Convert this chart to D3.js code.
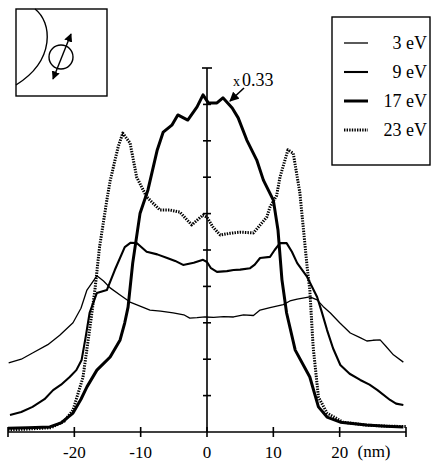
<!DOCTYPE html>
<html>
<head>
<meta charset="utf-8">
<script src="https://cdn.jsdelivr.net/npm/d3@7"></script>
<style>
  body { margin: 0; background: #fff; }
</style>
</head>
<body>
<div id="chart-area"></div>
<script>
// data: [position nm, intensity in axis ticks]
const ev3 = [[-29.9,1.9],[-28,2.0],[-26.3,2.17],[-24,2.4],[-22.2,2.66],[-20.2,3.0],[-19,3.4],[-18.1,3.9],[-16.6,4.29],[-15.6,4.15],[-14.6,3.96],[-13,3.75],[-11.6,3.57],[-10,3.45],[-8.6,3.35],[-7,3.32],[-5.1,3.27],[-3.5,3.22],[-2.6,3.13],[-1.5,3.14],[-0.3,3.16],[1,3.15],[2.5,3.17],[4,3.16],[5.5,3.22],[7,3.2],[8,3.35],[9.5,3.42],[11.5,3.5],[12.5,3.6],[13.6,3.65],[15.5,3.71],[16.6,3.63],[17.5,3.45],[18.6,3.27],[20,3.0],[21.6,2.72],[23,2.6],[24.1,2.5],[25,2.52],[26.1,2.53],[27,2.35],[28.1,2.12],[29.6,1.92]];
const ev9 = [[-29.7,0.47],[-28,0.55],[-26.3,0.69],[-24.5,0.9],[-23.2,1.15],[-22,1.3],[-20.7,1.51],[-19.7,1.7],[-18.9,1.98],[-18.3,2.6],[-17.7,3.27],[-16.6,3.82],[-15.1,3.9],[-13.9,4.45],[-12.4,5.08],[-11.5,5.2],[-10.6,5.19],[-9.1,4.95],[-7.5,4.88],[-6.0,4.78],[-4.8,4.7],[-3.6,4.59],[-2,4.65],[-0.6,4.73],[0,4.67],[0.6,4.5],[1.5,4.4],[3,4.42],[4,4.45],[5,4.46],[6.5,4.5],[7.2,4.6],[8,4.78],[9.5,4.81],[10.2,5.0],[11,5.19],[12,5.19],[12.8,4.95],[13.6,4.64],[15.1,4.26],[16.6,3.71],[17.3,3.3],[18.1,2.8],[19,2.3],[20.1,1.84],[21.5,1.6],[23.1,1.43],[24.5,1.3],[25.7,1.15],[27.6,0.88],[28.5,0.78],[29.6,0.74]];
const ev17 = [[-30,0.1],[-27,0.12],[-23.7,0.14],[-22,0.25],[-20.2,0.52],[-19,0.9],[-18.1,1.24],[-16.6,1.7],[-14.6,2.06],[-13.1,2.53],[-12.4,3.0],[-11.9,3.43],[-11.2,4.64],[-10.1,6.0],[-8.9,6.65],[-7.5,7.75],[-6.6,8.24],[-5.3,8.43],[-4.4,8.71],[-2.9,8.57],[-1.5,8.93],[-0.6,9.26],[0.2,9.04],[1.5,9.04],[2.4,9.18],[3.8,8.9],[4.7,8.63],[6,8.02],[7.5,7.47],[8.5,6.92],[10,6.37],[10.7,5.55],[11.3,4.18],[12,3.27],[13.3,2.25],[15.5,1.51],[16.8,0.69],[18.1,0.41],[20.1,0.27],[24,0.19],[27,0.16],[29.6,0.14]];
const ev23 = [[-30,0.06],[-27,0.08],[-23.5,0.12],[-21.5,0.3],[-20.2,0.6],[-18.7,1.5],[-17.7,2.8],[-16.9,3.9],[-16.2,5.08],[-15.1,6.37],[-14.6,6.9],[-13.4,7.83],[-12.7,8.21],[-11.6,7.94],[-10.6,7.0],[-9.1,6.46],[-7.1,6.1],[-5.6,6.1],[-4.1,6.04],[-2.3,5.69],[-0.6,5.96],[0,5.9],[0.9,5.63],[2,5.41],[3.5,5.46],[5,5.49],[7,5.47],[9,5.9],[9.5,6.18],[10.5,6.5],[11,7.0],[12.2,7.75],[13,7.66],[14,6.57],[15.1,4.53],[15.5,3.9],[16,2.34],[16.8,0.96],[18.1,0.52],[20.5,0.27],[24,0.19],[27,0.16],[30,0.15]];

const seriesNames = ["3 eV", "9 eV", "17 eV", "23 eV"];
const seriesData = [ev3, ev9, ev17, ev23];
const xTicks = [-20, -10, 0, 10, 20];
const yTicks = [1, 2, 3, 4, 5, 6, 7, 8, 9];

const styles = [
    {w: 1.3, dash: null},
    {w: 2.1, dash: null},
    {w: 3.0, dash: null},
    {w: 3.0, dash: "1.4,1.2"}
];

const serif = "'Liberation Serif', 'DejaVu Serif', serif";

const svg = d3.select("#chart-area")
    .append("svg")
        .attr("width", 434)
        .attr("height", 462)
        .style("font-family", serif);

const x = d3.scaleLinear().domain([-30, 30]).range([8, 406]);
const y = d3.scaleLinear().domain([0, 10]).range([432, 68]);

// x axis
const xAxis = svg.append("g").attr("stroke", "#000").attr("stroke-width", 1.6);
xAxis.append("line").attr("x1", x(-30)).attr("x2", x(30)).attr("y1", y(0)).attr("y2", y(0));
xAxis.selectAll(".xt").data([-30].concat(xTicks, [30])).enter()
    .append("line")
        .attr("x1", d => x(d)).attr("x2", d => x(d))
        .attr("y1", y(0) - 5).attr("y2", y(0) + 5);
svg.selectAll(".xl").data(xTicks).enter()
    .append("text")
        .attr("x", d => x(d))
        .attr("y", 458)
        .attr("text-anchor", "middle")
        .attr("font-family", serif)
        .attr("font-size", 17)
        .text(d => d);
svg.append("text").attr("x", 374).attr("y", 457).attr("text-anchor", "middle")
    .attr("font-family", serif).attr("font-size", 17).text("(nm)");

// y axis at 0
const yAxis = svg.append("g").attr("stroke", "#000").attr("stroke-width", 1.6);
yAxis.append("line").attr("x1", x(0)).attr("x2", x(0)).attr("y1", y(0)).attr("y2", y(10));
yAxis.append("line").attr("x1", x(0) - 5).attr("x2", x(0) + 5).attr("y1", y(10)).attr("y2", y(10));
yAxis.selectAll(".yt").data(yTicks).enter()
    .append("line")
        .attr("x1", x(0) - 4).attr("x2", x(0) + 4)
        .attr("y1", d => y(d)).attr("y2", d => y(d));

// curves
const line = d3.line().x(d => x(d[0])).y(d => y(d[1]));
seriesData.forEach((data, i) => {
    svg.append("path")
        .datum(data)
        .attr("d", line)
        .attr("fill", "none")
        .attr("stroke", "#000")
        .attr("stroke-width", styles[i].w)
        .attr("stroke-linejoin", "round")
        .attr("stroke-dasharray", styles[i].dash);
});

// arrow heads
const defs = svg.append("defs");
defs.append("marker")
    .attr("id", "ah").attr("viewBox", "0 0 10 10").attr("refX", 9).attr("refY", 5)
    .attr("markerWidth", 6).attr("markerHeight", 6).attr("orient", "auto")
    .append("path").attr("d", "M0,0L10,5L0,10z").attr("fill", "#000");
defs.append("marker")
    .attr("id", "ah2").attr("viewBox", "0 0 10 10").attr("refX", 1).attr("refY", 5)
    .attr("markerWidth", 6).attr("markerHeight", 6).attr("orient", "auto")
    .append("path").attr("d", "M10,0L0,5L10,10z").attr("fill", "#000");

// x 0.33 label with arrow
svg.append("text").attr("x", 233).attr("y", 86).attr("font-family", serif).attr("font-size", 14).text("x");
svg.append("text").attr("x", 242).attr("y", 86).attr("font-family", serif).attr("font-size", 18).text("0.33");
svg.append("line").attr("x1", 244).attr("y1", 88).attr("x2", 230).attr("y2", 101)
    .attr("stroke", "#000").attr("stroke-width", 1.6).attr("marker-end", "url(#ah)");

// legend
const lg = svg.append("g");
lg.append("rect").attr("x", 332).attr("y", 17).attr("width", 98).attr("height", 148)
    .attr("fill", "none").attr("stroke", "#000").attr("stroke-width", 1.4);
seriesNames.forEach((name, i) => {
    const yy = 43 + i * 29;
    lg.append("line").attr("x1", 344).attr("x2", 368).attr("y1", yy).attr("y2", yy)
        .attr("stroke", "#000").attr("stroke-width", styles[i].w)
        .attr("stroke-dasharray", styles[i].dash);
    lg.append("text").attr("x", 427).attr("y", yy + 6).attr("text-anchor", "end")
        .attr("font-family", serif).attr("font-size", 18).text(name);
});

// inset sketch
const ins = svg.append("g").attr("fill", "none").attr("stroke", "#000").attr("stroke-width", 1.4);
ins.append("rect").attr("x", 16).attr("y", 9).attr("width", 91).attr("height", 87);
ins.append("path").attr("d", "M35,9 C52,22 56,60 16,85");
ins.append("circle").attr("cx", 61).attr("cy", 57).attr("r", 12);
ins.append("line").attr("x1", 53).attr("y1", 79).attr("x2", 71).attr("y2", 34)
    .attr("marker-end", "url(#ah)").attr("marker-start", "url(#ah2)");
</script>
</body>
</html>
